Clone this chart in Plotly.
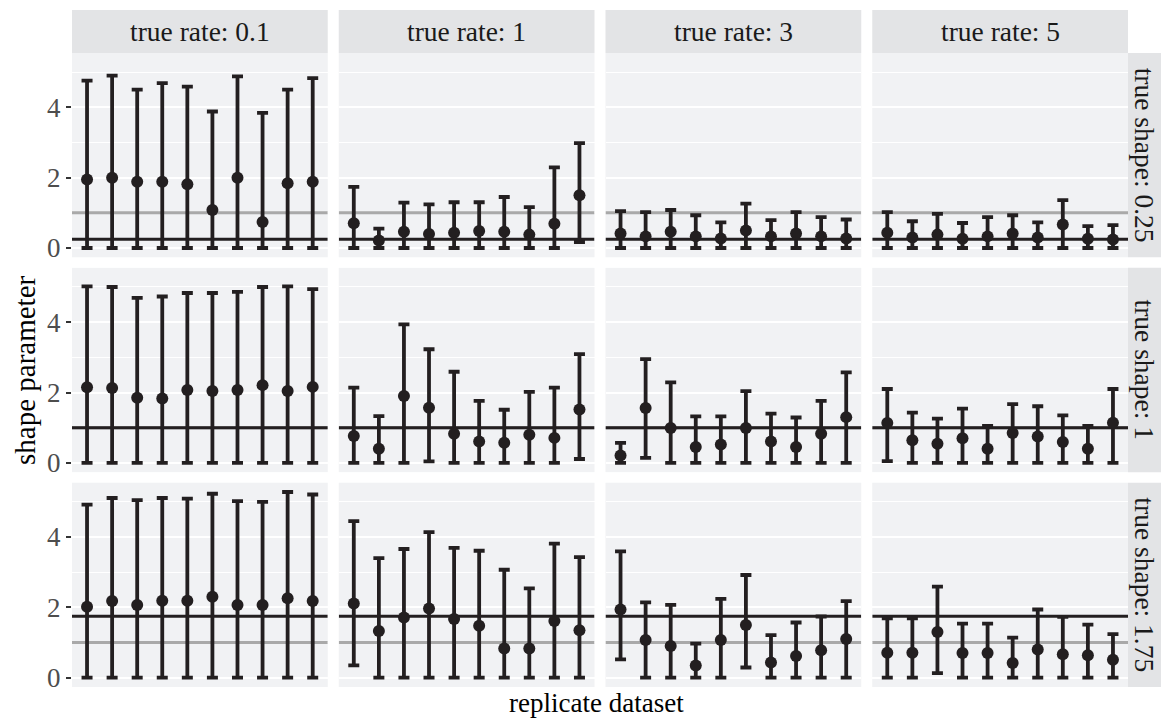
import plotly.graph_objects as go

# ---------------- data ----------------
rates = [0.1, 1, 3, 5]
shapes = [0.25, 1, 1.75]
rate_labels = ["true rate: 0.1", "true rate: 1", "true rate: 3", "true rate: 5"]
shape_labels = ["true shape: 0.25", "true shape: 1", "true shape: 1.75"]
replicates = list(range(1, 11))
reference_shape = 1.0

# true shape 0.25 (one list per true rate)
est_s025 = [
    [1.95, 2.00, 1.88, 1.88, 1.81, 1.08, 2.00, 0.74, 1.84, 1.88],
    [0.70, 0.21, 0.46, 0.40, 0.43, 0.48, 0.46, 0.38, 0.69, 1.50],
    [0.41, 0.33, 0.46, 0.33, 0.27, 0.50, 0.33, 0.41, 0.33, 0.27],
    [0.43, 0.30, 0.38, 0.26, 0.33, 0.41, 0.30, 0.67, 0.26, 0.24],
]
upper_s025 = [
    [4.76, 4.90, 4.50, 4.69, 4.59, 3.88, 4.88, 3.84, 4.50, 4.83],
    [1.74, 0.55, 1.29, 1.24, 1.30, 1.30, 1.45, 1.16, 2.29, 2.98],
    [1.05, 1.02, 1.08, 0.93, 0.73, 1.26, 0.79, 1.02, 0.88, 0.81],
    [1.02, 0.76, 0.97, 0.71, 0.88, 0.93, 0.73, 1.36, 0.62, 0.65],
]
lower_s025 = [
    [0, 0, 0, 0, 0, 0, 0, 0, 0, 0],
    [0, 0, 0, 0, 0, 0, 0, 0, 0, 0.17],
    [0, 0, 0, 0, 0, 0, 0, 0, 0, 0],
    [0, 0, 0, 0, 0, 0, 0, 0, 0, 0],
]

# true shape 1
est_s1 = [
    [2.15, 2.13, 1.85, 1.83, 2.07, 2.04, 2.07, 2.21, 2.04, 2.16],
    [0.76, 0.40, 1.90, 1.57, 0.83, 0.61, 0.57, 0.80, 0.71, 1.52],
    [0.21, 1.56, 0.99, 0.45, 0.52, 0.99, 0.61, 0.45, 0.83, 1.30],
    [1.13, 0.64, 0.54, 0.70, 0.40, 0.85, 0.75, 0.59, 0.40, 1.14],
]
upper_s1 = [
    [5.02, 5.00, 4.69, 4.73, 4.83, 4.83, 4.86, 5.00, 5.02, 4.94],
    [2.14, 1.33, 3.94, 3.23, 2.59, 1.76, 1.51, 2.02, 2.14, 3.09],
    [0.57, 2.95, 2.29, 1.32, 1.32, 2.04, 1.40, 1.29, 1.76, 2.57],
    [2.10, 1.43, 1.26, 1.54, 1.05, 1.67, 1.61, 1.35, 1.05, 2.10],
]
lower_s1 = [
    [0, 0, 0, 0, 0, 0, 0, 0, 0, 0],
    [0, 0, 0, 0.04, 0, 0, 0, 0, 0, 0.11],
    [0, 0.14, 0, 0, 0, 0, 0, 0, 0, 0],
    [0.05, 0, 0, 0, 0, 0, 0, 0, 0, 0],
]

# true shape 1.75
est_s175 = [
    [2.02, 2.18, 2.07, 2.19, 2.19, 2.30, 2.07, 2.07, 2.26, 2.18],
    [2.11, 1.33, 1.71, 1.97, 1.67, 1.48, 0.83, 0.83, 1.61, 1.35],
    [1.94, 1.07, 0.90, 0.35, 1.07, 1.50, 0.43, 0.62, 0.78, 1.10],
    [0.71, 0.71, 1.30, 0.70, 0.70, 0.42, 0.80, 0.67, 0.64, 0.51],
]
upper_s175 = [
    [4.92, 5.11, 5.05, 5.11, 5.09, 5.23, 5.02, 5.00, 5.28, 5.21],
    [4.45, 3.40, 3.66, 4.14, 3.69, 3.61, 3.07, 2.54, 3.81, 3.43],
    [3.59, 2.14, 2.07, 0.97, 2.24, 2.92, 1.21, 1.57, 1.74, 2.18],
    [1.69, 1.69, 2.59, 1.54, 1.54, 1.14, 1.94, 1.73, 1.51, 1.24],
]
lower_s175 = [
    [0, 0, 0, 0, 0, 0, 0, 0, 0, 0],
    [0.35, 0, 0, 0, 0, 0, 0, 0, 0, 0],
    [0.52, 0, 0, 0, 0, 0.29, 0, 0, 0, 0],
    [0, 0, 0.13, 0, 0, 0, 0, 0, 0, 0],
]

est_all = [est_s025, est_s1, est_s175]
upper_all = [upper_s025, upper_s1, upper_s175]
lower_all = [lower_s025, lower_s1, lower_s175]

# ---------------- style / layout ----------------
W, H = 1162, 720
ML, MR, MT, MB = 72, 34, 53, 33
PW, PH = W - ML - MR, H - MT - MB
GAPX, GAPY = 11, 10.6
COLW = (PW - 3 * GAPX) / 4
ROWH = (PH - 2 * GAPY) / 3
STRIP_T = 43
STRIP_R = 33

INK = "#231F20"
PANEL = "#F1F2F4"
STRIP = "#E3E4E6"
GREYLINE = "#A9A9A9"
FONT = "Liberation Serif, Times New Roman, serif"

# discrete x scale expansion (0.6 on each side, as ggplot does)
XRANGE = [replicates[0] - 0.6, replicates[-1] + 0.6]

fig = go.Figure()

ymin = min(min(min(r) for r in rows) for rows in lower_all)
ymax = max(max(max(r) for r in rows) for rows in upper_all)
pad = 0.05 * (ymax - ymin)
yrange = [ymin - pad, ymax + pad]

shapes_list = []
annotations = []

for ri, s in enumerate(shapes):
    for ci, r in enumerate(rates):
        idx = ri * 4 + ci + 1
        xa = "x" if idx == 1 else f"x{idx}"
        ya = "y" if idx == 1 else f"y{idx}"
        xkey = "xaxis" if idx == 1 else f"xaxis{idx}"
        ykey = "yaxis" if idx == 1 else f"yaxis{idx}"
        x0 = (ci * (COLW + GAPX)) / PW
        x1 = (ci * (COLW + GAPX) + COLW) / PW
        ytop = 1 - (ri * (ROWH + GAPY)) / PH
        ybot = 1 - (ri * (ROWH + GAPY) + ROWH) / PH

        # reference line at 1 (grey) and true shape (black), drawn under the marks
        fig.add_trace(go.Scatter(
            x=XRANGE, y=[reference_shape, reference_shape], mode="lines",
            line=dict(color=GREYLINE, width=3), xaxis=xa, yaxis=ya,
            showlegend=False, hoverinfo="skip"))
        fig.add_trace(go.Scatter(
            x=XRANGE, y=[s, s], mode="lines",
            line=dict(color=INK, width=3), xaxis=xa, yaxis=ya,
            showlegend=False, hoverinfo="skip"))

        est = est_all[ri][ci]
        up = upper_all[ri][ci]
        lo = lower_all[ri][ci]
        fig.add_trace(go.Scatter(
            x=replicates, y=est, mode="markers",
            marker=dict(size=12, color=INK),
            error_y=dict(type="data", symmetric=False,
                         array=[u - e for u, e in zip(up, est)],
                         arrayminus=[e - l for e, l in zip(est, lo)],
                         color=INK, thickness=3.8, width=5.5),
            xaxis=xa, yaxis=ya, showlegend=False, hoverinfo="skip",
        ))

        fig.layout[xkey] = dict(
            domain=[x0, x1], range=XRANGE, showgrid=False, zeroline=False,
            showticklabels=False, ticks="", anchor=ya, fixedrange=True,
        )
        fig.layout[ykey] = dict(
            domain=[ybot, ytop], range=yrange, anchor=xa,
            tickmode="array", tickvals=[0, 2, 4], ticktext=["0", "2", "4"],
            showgrid=True, gridcolor="white", gridwidth=2.2, zeroline=False,
            minor=dict(tickmode="array", tickvals=[1, 3, 5], showgrid=True,
                       gridcolor="white", gridwidth=1.4),
            showticklabels=(ci == 0), ticks="outside" if ci == 0 else "",
            ticklen=5, tickwidth=2.4, tickcolor="#333333",
            tickfont=dict(family=FONT, size=27, color="#4D4D4D"),
        )

# top strips
for ci, lab in enumerate(rate_labels):
    x0 = (ci * (COLW + GAPX)) / PW
    x1 = (ci * (COLW + GAPX) + COLW) / PW
    shapes_list.append(dict(type="rect", xref="paper", yref="paper",
                            x0=x0, x1=x1, y0=1, y1=1 + STRIP_T / PH,
                            fillcolor=STRIP, line=dict(width=0)))
    annotations.append(dict(text=lab, xref="paper", yref="paper",
                            x=(x0 + x1) / 2, y=1 + STRIP_T / PH / 2,
                            xanchor="center", yanchor="middle", showarrow=False,
                            font=dict(family=FONT, size=27.5, color="#1A1A1A")))

# right strips
for ri, lab in enumerate(shape_labels):
    ytop = 1 - (ri * (ROWH + GAPY)) / PH
    ybot = 1 - (ri * (ROWH + GAPY) + ROWH) / PH
    shapes_list.append(dict(type="rect", xref="paper", yref="paper",
                            x0=1, x1=1 + STRIP_R / PW, y0=ybot, y1=ytop,
                            fillcolor=STRIP, line=dict(width=0)))
    annotations.append(dict(text=lab, xref="paper", yref="paper",
                            x=1 + STRIP_R / PW / 2, y=(ybot + ytop) / 2,
                            xanchor="center", yanchor="middle", showarrow=False,
                            textangle=90,
                            font=dict(family=FONT, size=27.5, color="#1A1A1A")))

# axis titles
annotations.append(dict(text="shape parameter", xref="paper", yref="paper",
                        x=(25 - ML) / PW, y=0.5, xanchor="center", yanchor="middle",
                        textangle=-90, showarrow=False,
                        font=dict(family=FONT, size=29, color="#000000")))
annotations.append(dict(text="replicate dataset", xref="paper", yref="paper",
                        x=0.497, y=-16 / PH, xanchor="center", yanchor="middle",
                        showarrow=False,
                        font=dict(family=FONT, size=27, color="#000000")))

fig.update_layout(
    width=W, height=H,
    margin=dict(l=ML, r=MR, t=MT, b=MB),
    paper_bgcolor="white", plot_bgcolor=PANEL,
    shapes=shapes_list, annotations=annotations,
    showlegend=False,
    font=dict(family=FONT),
)

fig.write_html("out.html")
